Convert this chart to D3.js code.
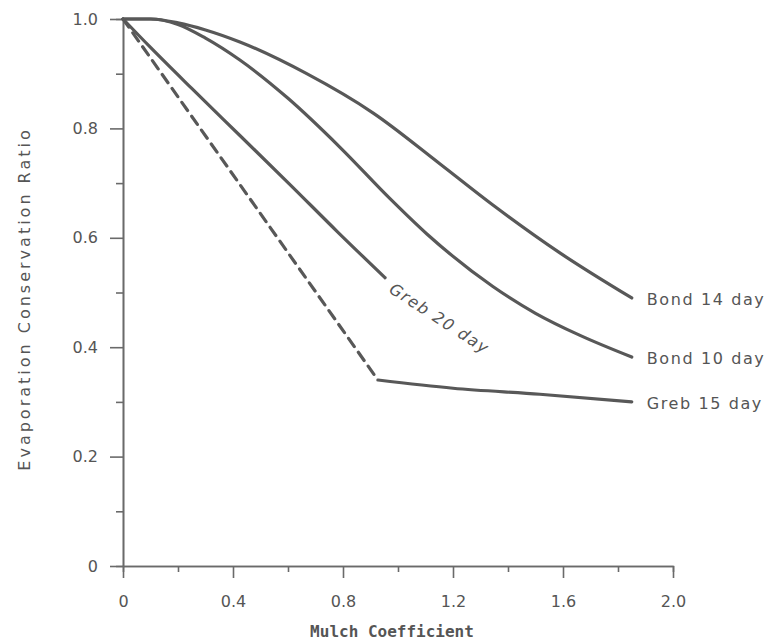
<!DOCTYPE html>
<html><head><meta charset="utf-8">
<script src="https://cdn.jsdelivr.net/npm/d3@7"></script>
<style>
body{margin:0;background:#fff;}
text{font-family:"DejaVu Sans",sans-serif;fill:#555;}
</style></head>
<body><svg id="c" width="768" height="643"></svg>
<script>
// ---- data ----
const xMajorTicks = [0, 0.4, 0.8, 1.2, 1.6, 2.0];
const xMinorTicks = [0.2, 0.6, 1.0, 1.4, 1.8];
const yMajorTicks = [0, 0.2, 0.4, 0.6, 0.8, 1.0];
const yMinorTicks = [0.1, 0.3, 0.5, 0.7, 0.9];
const xTickLabels = ["0", "0.4", "0.8", "1.2", "1.6", "2.0"];
const yTickLabels = ["0", "0.2", "0.4", "0.6", "0.8", "1.0"];

const bond14X = [0, 0.1, 0.2, 0.3, 0.425, 0.668, 0.91, 1.153, 1.345, 1.59, 1.85];
const bond14Y = [1.0, 1.0, 0.993, 0.98, 0.958, 0.9, 0.828, 0.735, 0.66, 0.572, 0.49];
const bond10X = [0, 0.1, 0.2, 0.3, 0.425, 0.6, 0.79, 0.97, 1.105, 1.345, 1.5, 1.66, 1.85];
const bond10Y = [1.0, 1.0, 0.99, 0.965, 0.925, 0.855, 0.765, 0.672, 0.607, 0.511, 0.462, 0.422, 0.382];
const greb20X = [0, 0.1, 0.25, 0.425, 0.61, 0.78, 0.953];
const greb20Y = [1.0, 0.948, 0.873, 0.787, 0.696, 0.611, 0.527];
const greb15DashX = [0, 0.927];
const greb15DashY = [1.0, 0.34];
const greb15X = [0.927, 1.2, 1.516, 1.85];
const greb15Y = [0.34, 0.325, 0.314, 0.30];

const seriesLabels = ["Bond 14 day", "Bond 10 day", "Greb 15 day", "Greb 20 day"];

// ---- chart ----
const svg = d3.select("#c");
const x = d3.scaleLinear().domain([0, 2]).range([123, 673]);
const y = d3.scaleLinear().domain([0, 1]).range([566, 19]);
const col = "#585858";
const axCol = "#6a6a6a";

function styleAxis(g){
  g.select(".domain").attr("stroke", axCol).attr("stroke-width", 1.6);
  g.selectAll(".tick line").attr("stroke", axCol).attr("stroke-width", 1.6);
  g.selectAll(".tick text").attr("fill", "#555").style("font-size", "16px")
    .style("font-family", "'DejaVu Sans',sans-serif");
}

// minor ticks
const gxm = svg.append("g").attr("transform", `translate(0,${y(0)})`)
  .call(d3.axisBottom(x).tickValues(xMinorTicks).tickSize(6).tickFormat(""));
styleAxis(gxm);
const gym = svg.append("g").attr("transform", `translate(${x(0)},0)`)
  .call(d3.axisLeft(y).tickValues(yMinorTicks).tickSize(7).tickFormat(""));
styleAxis(gym);

const gx = svg.append("g").attr("transform", `translate(0,${y(0)})`)
  .call(d3.axisBottom(x).tickValues(xMajorTicks).tickSize(12).tickSizeOuter(0)
    .tickPadding(13).tickFormat((d, i) => xTickLabels[i]));
styleAxis(gx);
const gy = svg.append("g").attr("transform", `translate(${x(0)},0)`)
  .call(d3.axisLeft(y).tickValues(yMajorTicks).tickSize(13).tickSizeOuter(0)
    .tickPadding(12).tickFormat((d, i) => yTickLabels[i]));
styleAxis(gy);
gx.selectAll(".tick text").attr("dy", "1.0em");

// axis titles
svg.append("text").attr("x", 392).attr("y", 637).attr("text-anchor", "middle")
  .style("font-family", "'DejaVu Sans Mono',monospace").style("font-weight", "bold")
  .style("font-size", "16px").attr("fill", "#444").text("Mulch Coefficient");
svg.append("text").attr("transform", "translate(30,299) rotate(-90)")
  .attr("text-anchor", "middle").style("font-size", "16px").style("letter-spacing", "3px")
  .attr("fill", "#555").text("Evaporation  Conservation  Ratio");

// lines
const line = d3.line().x(d => x(d[0])).y(d => y(d[1])).curve(d3.curveMonotoneX);
const zip = (a, b) => a.map((v, i) => [v, b[i]]);
function draw(xs, ys, dash){
  svg.append("path").datum(zip(xs, ys)).attr("d", line)
    .attr("fill", "none").attr("stroke", col).attr("stroke-width", 3.2)
    .attr("stroke-linecap", "round").attr("stroke-linejoin", "round")
    .attr("stroke-dasharray", dash || null);
}
draw(bond14X, bond14Y);
draw(bond10X, bond10Y);
draw(greb20X, greb20Y);
draw(greb15DashX, greb15DashY, "10,7");
draw(greb15X, greb15Y);

// labels
function lab(xs, ys, t){
  const n = xs.length - 1;
  svg.append("text").attr("x", x(xs[n]) + 15).attr("y", y(ys[n]) + 7)
    .style("font-size", "16px").style("letter-spacing", "1.6px").attr("fill", "#555").text(t);
}
lab(bond14X, bond14Y, seriesLabels[0]);
lab(bond10X, bond10Y, seriesLabels[1]);
lab(greb15X, greb15Y, seriesLabels[2]);
const gn = greb20X.length - 1;
svg.append("text")
  .attr("transform", `translate(${x(greb20X[gn]) + 3},${y(greb20Y[gn]) + 14}) rotate(33)`)
  .style("font-size", "16px").style("font-style", "italic").style("letter-spacing", "1.5px")
  .attr("fill", "#555").text(seriesLabels[3]);
</script></body></html>
